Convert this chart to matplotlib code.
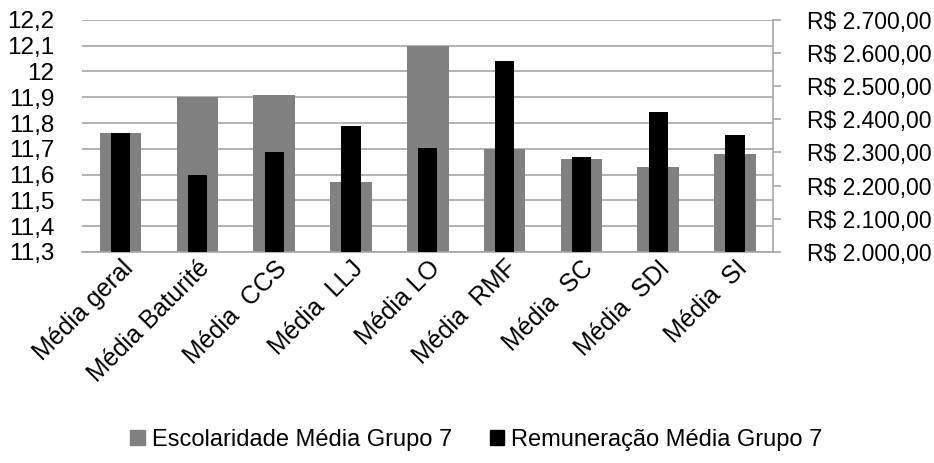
import matplotlib
matplotlib.use("Agg")
import matplotlib.pyplot as plt
import numpy as np
from matplotlib.ticker import FuncFormatter

# Data
categories = ["Média geral", "Média Baturité", "Média  CCS", "Média  LLJ", "Média LO",
              "Média  RMF", "Média  SC", "Média  SDI", "Média  SI"]
escolaridade = [11.76, 11.90, 11.91, 11.57, 12.10, 11.70, 11.66, 11.63, 11.68]
remuneracao = [2360, 2232, 2302, 2379, 2314, 2576, 2287, 2421, 2352]

left_ticks = [11.3, 11.4, 11.5, 11.6, 11.7, 11.8, 11.9, 12.0, 12.1, 12.2]
right_ticks = [2000, 2100, 2200, 2300, 2400, 2500, 2600, 2700]

plt.rcParams["font.family"] = ["Liberation Sans", "DejaVu Sans"]

GREY = "#808080"
GRID = "#a6a6a6"


def left_fmt(v, pos):
    s = f"{v:.1f}".replace(".", ",")
    return s[:-2] if s.endswith(",0") else s


def brl_fmt(v, pos):
    s = f"{v:,.2f}"
    s = s.replace(",", "X").replace(".", ",").replace("X", ".")
    return "R$ " + s


fig = plt.figure(figsize=(9.34, 4.63), dpi=100)
ax = fig.add_axes([0.088, 0.456, 0.740, 0.501])
ax2 = ax.twinx()

x = np.arange(len(categories))
ax.bar(x, np.array(escolaridade) - 11.3, bottom=11.3, width=0.54, color=GREY, zorder=2)
ax2.bar(x, np.array(remuneracao) - 2000, bottom=2000, width=0.25, color="black", zorder=3)

ax.set_xlim(-0.5, len(categories) - 0.5)
ax.set_ylim(11.3, 12.2)
ax.set_yticks(left_ticks)
ax.yaxis.set_major_formatter(FuncFormatter(left_fmt))
ax2.set_ylim(2000, 2700)
ax2.set_yticks(right_ticks)
ax2.yaxis.set_major_formatter(FuncFormatter(brl_fmt))

ax.grid(axis="y", color=GRID, linewidth=1.2, zorder=0)
ax.set_axisbelow(True)

for a in (ax, ax2):
    for side in ("top", "left"):
        a.spines[side].set_visible(False)
ax.spines["right"].set_visible(False)
ax2.spines["bottom"].set_visible(False)
ax.spines["bottom"].set_color(GRID)
ax.spines["bottom"].set_linewidth(1.2)
ax2.spines["right"].set_color(GRID)
ax2.spines["right"].set_linewidth(1.2)

ax.tick_params(axis="y", length=0, labelsize=17.5, pad=20)
ax.tick_params(axis="x", length=0, labelsize=18, pad=3)
ax2.tick_params(axis="y", length=6, color=GRID, width=1.2, labelsize=16.5, pad=18)

ax.set_xticks(x)
ax.set_xticklabels(categories, rotation=45, ha="right", rotation_mode="anchor")

handles = [plt.Rectangle((0, 0), 1, 1, color=GREY), plt.Rectangle((0, 0), 1, 1, color="black")]
fig.legend(handles, ["Escolaridade Média Grupo 7", "Remuneração Média Grupo 7"],
           loc="center", bbox_to_anchor=(0.51, 0.05), ncol=2, frameon=False,
           fontsize=17, handlelength=0.6, handleheight=0.6, handletextpad=0.3,
           columnspacing=1.6)

fig.savefig("out.png", dpi=100)
